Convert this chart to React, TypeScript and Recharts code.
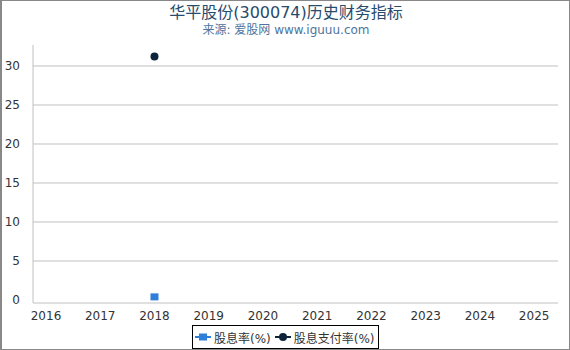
import { LineChart, Line, XAxis, YAxis, CartesianGrid } from 'recharts'

const years = [2016, 2017, 2018, 2019, 2020, 2021, 2022, 2023, 2024, 2025]
const dividendYield: (number | null)[] = [null, null, 0.4, null, null, null, null, null, null, null]
const payoutRatio: (number | null)[] = [null, null, 31.2, null, null, null, null, null, null, null]
const yTicks = [0, 5, 10, 15, 20, 25, 30]

const BLUE = '#2f7ed8'
const NAVY = '#0d233a'
const FONT = '"DejaVu Sans", "Noto Sans CJK SC", sans-serif'

const data = years.map((year, i) => ({
  year,
  yield: dividendYield[i],
  payout: payoutRatio[i],
}))

// eslint-disable-next-line @typescript-eslint/no-explicit-any
function SquareDot(props: any) {
  const { cx, cy, value } = props
  if (value == null || cx == null || cy == null) return null
  return <rect x={cx - 4} y={cy - 3.5} width={8} height={7} fill={BLUE} />
}

function LegendItem({ color, square, label }: { color: string; square?: boolean; label: string }) {
  return (
    <span style={{ display: 'inline-flex', alignItems: 'center', marginRight: 4 }}>
      <svg width={16} height={10} style={{ marginRight: 3 }}>
        <line x1={0} y1={5} x2={16} y2={5} stroke={color} strokeWidth={2} />
        {square ? (
          <rect x={4} y={1.5} width={8} height={7} fill={color} />
        ) : (
          <circle cx={8} cy={5} r={4} fill={color} />
        )}
      </svg>
      {label}
    </span>
  )
}

export default function App() {
  return (
    <div
      style={{
        position: 'absolute',
        left: 0,
        top: 0,
        width: 570,
        height: 350,
        boxSizing: 'border-box',
        border: '1px solid #888',
        borderLeftWidth: 2,
        background: '#fff',
        fontFamily: FONT,
      }}
    >
      <div
        style={{
          position: 'absolute',
          top: -2,
          left: 0,
          width: 568,
          textAlign: 'center',
          fontSize: 16,
          color: '#274b6d',
        }}
      >
        华平股份(300074)历史财务指标
      </div>
      <div
        style={{
          position: 'absolute',
          top: 19,
          left: 0,
          width: 568,
          textAlign: 'center',
          fontSize: 12,
          color: '#4d759e',
        }}
      >
        来源: 爱股网 www.iguuu.com
      </div>
      <div style={{ position: 'absolute', left: -2, top: -1 }}>
        <LineChart width={570} height={350} data={data} margin={{ top: 45, right: 12, bottom: 27, left: 0 }}>
          <CartesianGrid vertical={false} stroke="#c0c0c0" horizontalValues={[5, 10, 15, 20, 25, 30]} />
          <XAxis
            dataKey="year"
            type="number"
            domain={[2015.76, 2025.44]}
            ticks={years}
            allowDataOverflow
            interval={0}
            height={20}
            tickLine={false}
            axisLine={{ stroke: '#c0c0c0' }}
            tick={{ fill: '#333', fontSize: 12, fontFamily: FONT }}
            tickMargin={2}
          />
          <YAxis
            type="number"
            domain={[-0.385, 32.69]}
            ticks={yTicks}
            allowDataOverflow
            width={33}
            tickLine={false}
            axisLine={{ stroke: '#c0c0c0' }}
            tick={{ fill: '#333', fontSize: 12, fontFamily: FONT }}
            tickMargin={7}
          />
          <Line
            dataKey="yield"
            stroke={BLUE}
            strokeWidth={2}
            dot={<SquareDot />}
            activeDot={false}
            isAnimationActive={false}
          />
          <Line
            dataKey="payout"
            stroke={NAVY}
            strokeWidth={2}
            dot={{ r: 4, fill: NAVY, stroke: NAVY, strokeWidth: 0 }}
            activeDot={false}
            isAnimationActive={false}
          />
        </LineChart>
      </div>
      <div
        style={{
          position: 'absolute',
          left: 190,
          top: 324,
          width: 187,
          height: 24,
          boxSizing: 'border-box',
          border: '1px solid #000',
          display: 'flex',
          alignItems: 'center',
          paddingLeft: 2,
          fontSize: 12,
          color: '#333',
          whiteSpace: 'nowrap',
        }}
      >
        <LegendItem color={BLUE} square label="股息率(%)" />
        <LegendItem color={NAVY} label="股息支付率(%)" />
      </div>
    </div>
  )
}
